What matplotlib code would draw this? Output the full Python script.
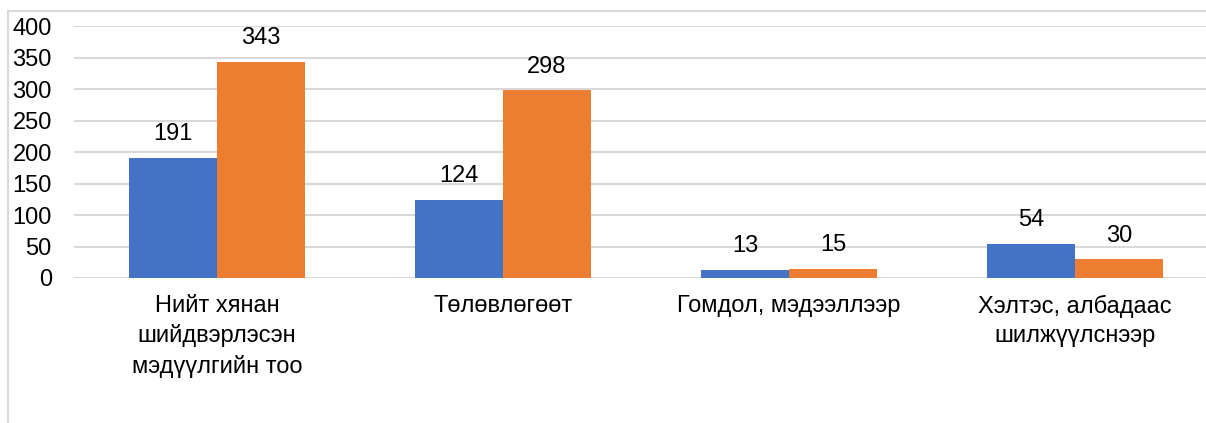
import numpy as np
import matplotlib.pyplot as plt
from matplotlib.patches import Rectangle

plt.rcParams['font.family'] = ['Liberation Sans', 'DejaVu Sans']

categories = ["Нийт хянан\nшийдвэрлэсэн\nмэдүүлгийн тоо", "Төлөвлөгөөт",
              "Гомдол, мэдээллээр", "Хэлтэс, албадаас\nшилжүүлснээр"]
series_a = [191, 124, 13, 54]
series_b = [343, 298, 15, 30]
yticks = [0, 50, 100, 150, 200, 250, 300, 350, 400]

W, H = 1206, 423
fs = 17
fig = plt.figure(figsize=(W / 100, H / 100), dpi=100)
fig.patches.append(Rectangle((8 / W, -0.1), 1.1, (H - 11) / H + 0.1,
                             transform=fig.transFigure, fill=False,
                             edgecolor='#d9d9d9', linewidth=1.5))

ax = fig.add_axes([74 / W, (H - 278) / H, (W - 74) / W, 252 / H])
x = np.arange(len(categories))
bw = 88 / 286
ax.bar(x - bw / 2, series_a, bw, color='#4472C4', zorder=3)
ax.bar(x + bw / 2, series_b, bw, color='#ED7D31', zorder=3)

for xi, v in zip(x - bw / 2, series_a):
    ax.annotate(str(v), (xi, v), xytext=(0, 9), textcoords='offset points',
                ha='center', va='bottom', fontsize=fs)
for xi, v in zip(x + bw / 2, series_b):
    ax.annotate(str(v), (xi, v), xytext=(0, 9), textcoords='offset points',
                ha='center', va='bottom', fontsize=fs)

ax.set_xlim(-0.5, -0.5 + (W - 74) / 286)
ax.set_ylim(0, 400)
ax.set_yticks(yticks)
ax.set_yticklabels([str(t) for t in yticks], fontsize=fs)
ax.set_xticks(x)
ax.set_xticklabels(categories, fontsize=fs, linespacing=1.42, va='top')
ax.tick_params(axis='y', length=0, pad=16)
ax.tick_params(axis='x', length=0, pad=12)
ax.yaxis.grid(True, color='#d9d9d9', linewidth=1.5, zorder=0)
for s in ax.spines.values():
    s.set_visible(False)

fig.savefig('out.png', dpi=100)
